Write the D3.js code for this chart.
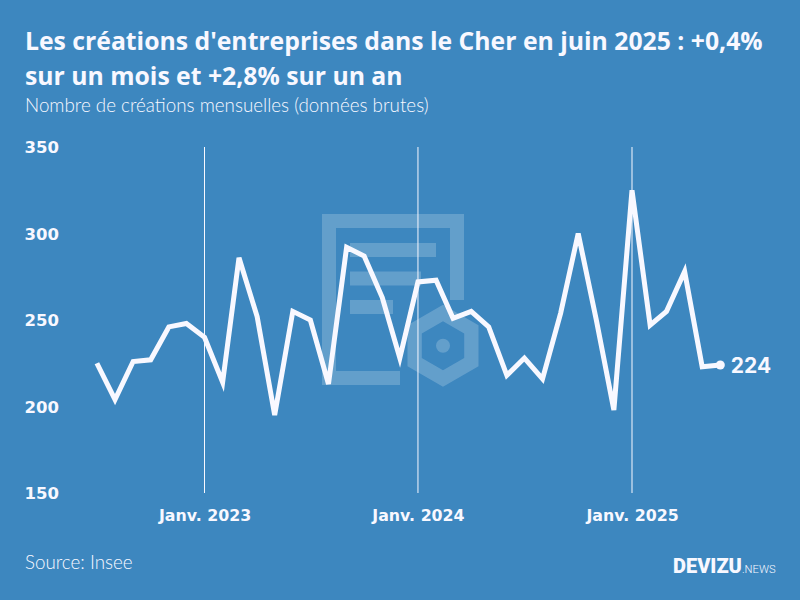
<!DOCTYPE html>
<html><head><meta charset="utf-8">
<script src="https://cdn.jsdelivr.net/npm/d3@7"></script>
<style>
html,body{margin:0;padding:0;background:#3d87bf}
svg{display:block}
text{fill:#f8f8ff}
.axis path,.axis line{display:none}
</style></head><body>
<svg id="c" width="800" height="600"></svg>
<script>
const startMonth = "2022-07";
const values = [225,204,226,227,246,248,240,214,286,252,195,255,250,213,292,287,263,228,272,273,251,255,246,218,228,216,254,300,250,198,325,247,255,278,223,224];
const yTicks = [150,200,250,300,350];
const xTickDates = ["2023-01","2024-01","2025-01"];
const xTickLabels = ["Janv. 2023","Janv. 2024","Janv. 2025"];
const titleLines = ["Les créations d'entreprises dans le Cher en juin 2025 : +0,4%","sur un mois et +2,8% sur un an"];
const subtitle = "Nombre de créations mensuelles (données brutes)";
const source = "Source: Insee";

const parse = d3.timeParse("%Y-%m");
const start = parse(startMonth);
const dates = values.map((_,i)=>d3.timeMonth.offset(start,i));
const tickDates = xTickDates.map(parse);

const x = d3.scaleTime().domain([parse("2023-01"),parse("2025-01")]).range([204.5,632]);
const y = d3.scaleLinear().domain([150,350]).range([493,147]);
const svg = d3.select("#c");
svg.append("rect").attr("width",800).attr("height",600).attr("fill","#3d87bf");

// watermark
const wm = svg.append("g").attr("fill","#fff").attr("fill-opacity",0.2);
wm.append("path").attr("fill-rule","evenodd").attr("d","M322 214H464V300H450V228H336V371H400V385H322Z");
[[350,243,86],[350,271.5,71],[350,300,43]].forEach(b=>wm.append("rect").attr("x",b[0]).attr("y",b[1]).attr("width",b[2]).attr("height",14));
const hex=(r)=>d3.range(6).map(i=>{const a=Math.PI/3*i-Math.PI/2;return [443+r*Math.cos(a),345.7+r*Math.sin(a)]});
const hp=p=>"M"+p.map(q=>q.join(",")).join("L")+"Z";
wm.append("path").attr("fill-rule","evenodd").attr("d",hp(hex(41))+hp(hex(24.5)));
wm.append("circle").attr("cx",443).attr("cy",345.7).attr("r",7);

// vertical reference lines
svg.append("g").selectAll("line").data(tickDates).join("line")
  .attr("x1",d=>x(d)).attr("x2",d=>x(d)).attr("y1",147).attr("y2",493)
  .attr("stroke","#f8f8ff").attr("stroke-width",1);

// axes
const tickFont='"DejaVu Sans",sans-serif';
const gy = svg.append("g").attr("class","axis").attr("transform","translate(59,0)")
  .call(d3.axisLeft(y).tickValues(yTicks).tickSize(0).tickPadding(0));
gy.selectAll("text").attr("font-family",tickFont).attr("font-weight",700).attr("font-size",16.5).attr("fill","#f8f8ff").attr("dy","0.36em");
const gx = svg.append("g").attr("class","axis").attr("transform","translate(0,510)")
  .call(d3.axisBottom(x).tickValues(tickDates).tickSize(0).tickPadding(0).tickFormat((d,i)=>xTickLabels[i]));
gx.selectAll("text").attr("font-family",tickFont).attr("font-weight",700).attr("font-size",15.8).attr("fill","#f8f8ff");

// line
const line = d3.line().x((d,i)=>x(dates[i])).y(d=>y(d));
svg.append("path").attr("d",line(values)).attr("fill","none").attr("stroke","#f8f8ff")
  .attr("stroke-width",5).attr("stroke-linejoin","miter").attr("stroke-miterlimit",4);
const last = values.length-1;
svg.append("circle").attr("cx",x(dates[last])).attr("cy",y(values[last])).attr("r",4.5).attr("fill","#f8f8ff");
svg.append("text").attr("x",x(dates[last])+10.5).attr("y",y(values[last])+8.5)
  .attr("font-family",'Inter,sans-serif').attr("font-weight",700).attr("font-size",21).text(values[last]);

// titles
const tf='"Open Sans",sans-serif';
titleLines.forEach((t,i)=>svg.append("text").attr("x",25).attr("y",[50,85][i]).attr("font-family",tf).attr("font-weight",700).attr("font-size",24.75).text(t));
svg.append("text").attr("x",25).attr("y",112).attr("font-family",'Lato,sans-serif').attr("font-weight",300).attr("font-size",18.8).text(subtitle);
svg.append("text").attr("x",25).attr("y",569).attr("font-family",'Lato,sans-serif').attr("font-weight",300).attr("font-size",18.8).text(source);
const logo = svg.append("text").attr("x",673).attr("y",573).attr("font-family",'Roboto,sans-serif');
logo.append("tspan").attr("font-weight",900).attr("font-size",20).text("DEVIZU");
logo.append("tspan").attr("font-weight",300).attr("font-size",11.2).text(".NEWS");
</script>
</body></html>
